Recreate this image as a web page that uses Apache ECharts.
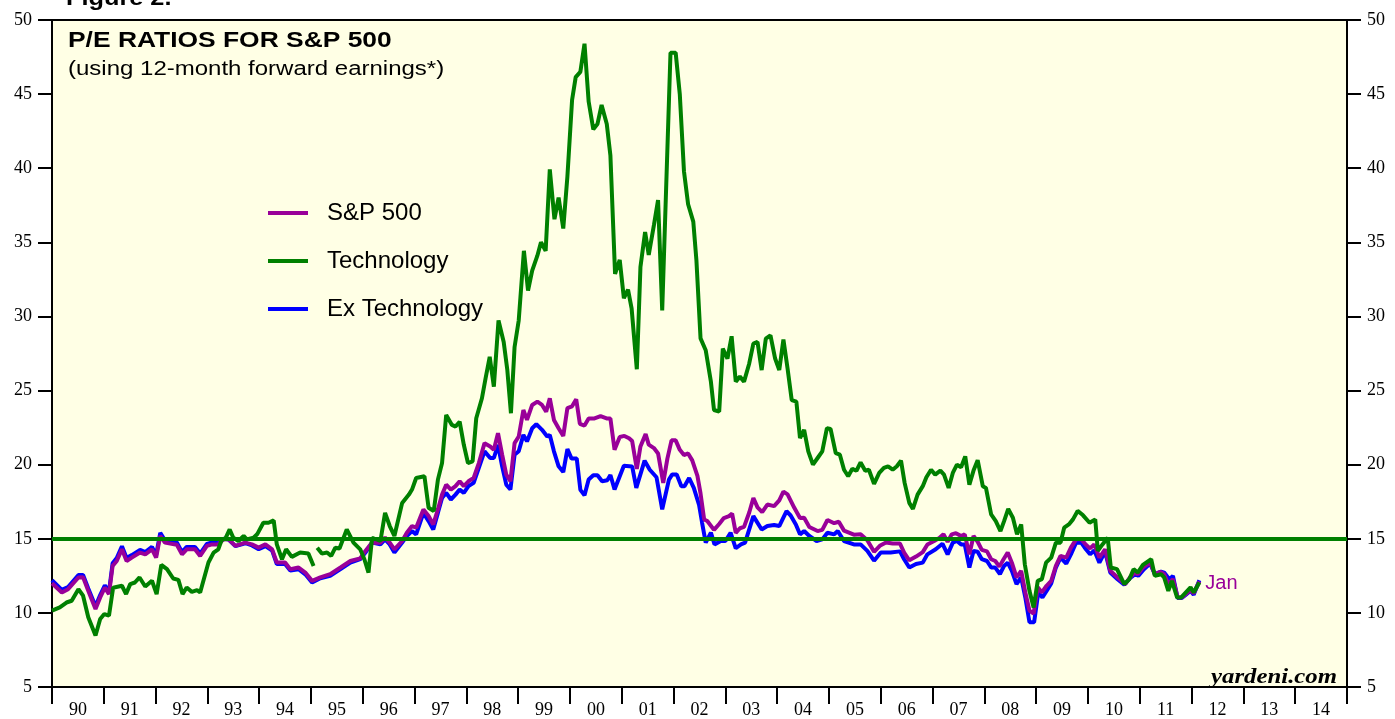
<!DOCTYPE html>
<html>
<head>
    <meta charset='utf-8' />
    <title>P/E Ratios for S&amp;P 500</title>
    <script src="https://cdn.jsdelivr.net/npm/echarts@6/dist/echarts.min.js"></script>
    <style>
        body {
            margin: 0;
            padding: 0;
            background: #fff;
        }

        #chart {
            width: 1395px;
            height: 719px;
        }
    </style>
</head>
<body>
    <div id='chart'></div>
    <script type="text/javascript">
        // year labels under the axis (one per year band)
        var yearLabels = ['90', '91', '92', '93', '94', '95', '96', '97', '98', '99', '00', '01', '02',
            '03', '04', '05', '06', '07', '08', '09', '10', '11', '12', '13', '14'];
        var yTicks = [5, 10, 15, 20, 25, 30, 35, 40, 45, 50];
        var benchmark = 15;

        // [decimal year, forward P/E]
        var spx = [[1990.00,12.0],[1990.19,11.38],[1990.31,11.6],[1990.51,12.39],[1990.60,12.4],[1990.70,11.5],[1990.84,10.26],[1990.93,11.04],[1991.02,11.7],[1991.10,11.27],[1991.17,13.17],[1991.25,13.5],[1991.35,14.29],[1991.44,13.5],[1991.54,13.73],[1991.70,14.07],[1991.80,13.95],[1991.93,14.29],[1992.01,13.73],[1992.09,15.19],[1992.18,14.74],[1992.41,14.6],[1992.51,13.95],[1992.60,14.29],[1992.76,14.29],[1992.86,13.84],[1992.99,14.52],[1993.09,14.62],[1993.21,14.62],[1993.31,14.96],[1993.41,14.96],[1993.54,14.52],[1993.73,14.74],[1993.86,14.62],[1993.99,14.4],[1994.12,14.62],[1994.25,14.29],[1994.34,13.4],[1994.50,13.4],[1994.60,12.95],[1994.76,13.06],[1994.89,12.72],[1995.02,12.16],[1995.18,12.39],[1995.37,12.61],[1995.57,13.06],[1995.76,13.5],[1995.95,13.68],[1996.05,14.18],[1996.18,14.74],[1996.34,14.74],[1996.43,15.07],[1996.52,14.74],[1996.61,14.29],[1996.76,14.85],[1996.85,15.41],[1996.95,15.86],[1997.03,15.75],[1997.17,16.98],[1997.27,16.53],[1997.36,15.97],[1997.45,16.98],[1997.53,17.98],[1997.61,18.65],[1997.70,18.32],[1997.79,18.55],[1997.87,18.88],[1997.95,18.55],[1998.04,18.88],[1998.14,19.1],[1998.24,20.11],[1998.35,21.45],[1998.46,21.23],[1998.53,21.0],[1998.61,22.12],[1998.69,20.67],[1998.77,19.33],[1998.85,18.88],[1998.93,21.45],[1999.01,21.9],[1999.10,23.69],[1999.17,23.02],[1999.27,24.03],[1999.37,24.25],[1999.46,24.03],[1999.54,23.58],[1999.61,24.48],[1999.69,23.02],[1999.78,22.46],[1999.87,21.94],[1999.95,23.82],[2000.04,23.94],[2000.12,24.41],[2000.19,22.76],[2000.28,22.64],[2000.36,23.11],[2000.46,23.11],[2000.59,23.28],[2000.72,23.11],[2000.78,23.11],[2000.86,21.0],[2000.96,21.87],[2001.05,21.94],[2001.14,21.78],[2001.20,21.59],[2001.29,19.71],[2001.36,21.23],[2001.46,22.06],[2001.52,21.35],[2001.62,21.12],[2001.70,20.76],[2001.80,18.77],[2001.88,20.41],[2001.96,21.64],[2002.04,21.64],[2002.12,21.0],[2002.20,20.65],[2002.28,20.76],[2002.36,20.29],[2002.46,19.24],[2002.52,18.06],[2002.59,16.3],[2002.65,16.2],[2002.78,15.6],[2002.88,16.0],[2002.97,16.4],[2003.07,16.53],[2003.13,16.7],[2003.20,15.4],[2003.28,15.71],[2003.36,15.8],[2003.46,16.77],[2003.54,17.75],[2003.62,17.12],[2003.71,16.8],[2003.81,17.31],[2003.94,17.2],[2004.04,17.59],[2004.12,18.18],[2004.20,18.0],[2004.33,17.09],[2004.44,16.4],[2004.52,16.42],[2004.62,15.8],[2004.78,15.52],[2004.87,15.6],[2004.97,16.27],[2005.10,16.05],[2005.19,16.15],[2005.29,15.55],[2005.48,15.28],[2005.61,15.3],[2005.74,14.9],[2005.87,14.12],[2005.99,14.55],[2006.10,14.75],[2006.23,14.68],[2006.37,14.68],[2006.45,14.07],[2006.55,13.55],[2006.68,13.8],[2006.81,14.1],[2006.90,14.62],[2007.03,14.85],[2007.13,15.05],[2007.21,15.3],[2007.29,14.8],[2007.37,15.3],[2007.45,15.38],[2007.55,15.19],[2007.62,15.3],[2007.71,13.95],[2007.79,15.19],[2007.87,14.8],[2007.95,14.25],[2008.05,14.15],[2008.13,13.62],[2008.21,13.5],[2008.29,13.12],[2008.37,13.62],[2008.45,14.07],[2008.53,13.39],[2008.62,12.39],[2008.71,12.84],[2008.79,11.38],[2008.87,10.15],[2008.95,9.95],[2009.03,11.72],[2009.11,11.38],[2009.20,11.83],[2009.29,12.16],[2009.38,13.17],[2009.47,13.84],[2009.58,13.73],[2009.67,14.4],[2009.77,14.96],[2009.87,14.96],[2009.96,14.6],[2010.04,14.35],[2010.12,14.62],[2010.22,13.73],[2010.33,14.29],[2010.43,12.84],[2010.57,12.39],[2010.72,11.94],[2010.81,12.39],[2010.90,12.72],[2010.96,12.61],[2011.06,13.06],[2011.20,13.39],[2011.29,12.61],[2011.40,12.77],[2011.47,12.61],[2011.55,11.94],[2011.64,12.28],[2011.73,11.04],[2011.81,11.04],[2011.89,11.27],[2011.98,11.53],[2012.04,11.31],[2012.15,12.12]];

        // '-' marks the missing month early in 1995
        var tech = [[1990.00,10.15],[1990.15,10.37],[1990.28,10.7],[1990.38,10.82],[1990.51,11.6],[1990.60,11.16],[1990.70,9.7],[1990.84,8.47],[1990.93,9.59],[1991.01,9.92],[1991.10,9.81],[1991.18,11.7],[1991.35,11.83],[1991.43,11.27],[1991.51,11.94],[1991.60,12.05],[1991.69,12.39],[1991.80,11.78],[1991.93,12.17],[1992.02,11.27],[1992.11,13.24],[1992.22,12.95],[1992.34,12.32],[1992.44,12.23],[1992.52,11.27],[1992.60,11.71],[1992.70,11.42],[1992.80,11.53],[1992.86,11.38],[1993.02,13.4],[1993.12,14.07],[1993.21,14.29],[1993.28,14.96],[1993.34,14.96],[1993.43,15.63],[1993.50,15.07],[1993.60,14.85],[1993.70,15.19],[1993.76,14.96],[1993.89,15.07],[1993.96,15.3],[1994.08,16.08],[1994.18,16.08],[1994.28,16.24],[1994.34,14.62],[1994.44,13.62],[1994.52,14.29],[1994.63,13.78],[1994.79,14.07],[1994.95,14.0],[1995.05,13.17],[1995.08,'-'],[1995.12,14.4],[1995.21,14.0],[1995.31,14.07],[1995.39,13.84],[1995.47,14.4],[1995.55,14.35],[1995.69,15.63],[1995.82,14.74],[1995.95,14.29],[1996.03,13.62],[1996.11,12.72],[1996.18,15.07],[1996.34,14.85],[1996.43,16.75],[1996.52,15.86],[1996.61,15.19],[1996.76,17.42],[1996.89,17.98],[1996.95,18.32],[1997.03,19.1],[1997.19,19.22],[1997.27,17.09],[1997.37,16.87],[1997.45,18.99],[1997.53,20.11],[1997.61,23.36],[1997.72,22.68],[1997.79,22.57],[1997.87,22.9],[1997.95,21.34],[1998.03,20.11],[1998.12,20.22],[1998.19,23.13],[1998.30,24.48],[1998.37,25.82],[1998.45,27.28],[1998.53,25.26],[1998.62,29.73],[1998.72,28.28],[1998.79,26.38],[1998.86,23.47],[1998.93,27.94],[1999.01,29.73],[1999.11,34.43],[1999.19,31.75],[1999.27,33.09],[1999.37,34.1],[1999.44,35.0],[1999.53,34.43],[1999.61,39.92],[1999.70,36.56],[1999.78,38.02],[1999.87,35.93],[1999.95,39.45],[2000.04,44.6],[2000.11,46.15],[2000.20,46.5],[2000.28,48.4],[2000.36,44.5],[2000.45,42.62],[2000.53,42.98],[2000.61,44.27],[2000.71,42.98],[2000.78,40.86],[2000.87,32.87],[2000.96,33.81],[2001.04,31.23],[2001.12,31.81],[2001.19,30.52],[2001.29,26.44],[2001.36,33.34],[2001.45,35.7],[2001.52,34.15],[2001.62,36.16],[2001.70,37.85],[2001.78,30.4],[2001.94,47.79],[2002.04,47.79],[2002.12,44.97],[2002.20,39.8],[2002.28,37.57],[2002.38,36.4],[2002.44,33.81],[2002.52,28.52],[2002.62,27.72],[2002.72,25.6],[2002.78,23.69],[2002.88,23.58],[2002.95,27.83],[2003.04,27.16],[2003.12,28.66],[2003.20,25.6],[2003.28,25.94],[2003.36,25.6],[2003.46,26.83],[2003.54,28.17],[2003.62,28.28],[2003.70,26.38],[2003.78,28.5],[2003.87,28.73],[2003.96,27.16],[2004.04,26.38],[2004.12,28.44],[2004.20,26.49],[2004.28,24.36],[2004.37,24.25],[2004.44,21.79],[2004.52,22.35],[2004.60,20.9],[2004.69,20.0],[2004.78,20.45],[2004.87,20.9],[2004.96,22.46],[2005.03,22.41],[2005.13,20.78],[2005.21,20.67],[2005.29,19.66],[2005.37,19.22],[2005.45,19.72],[2005.53,19.59],[2005.61,20.15],[2005.70,19.59],[2005.77,19.66],[2005.87,18.7],[2005.97,19.44],[2006.06,19.78],[2006.14,19.89],[2006.23,19.66],[2006.31,19.89],[2006.39,20.27],[2006.46,18.77],[2006.55,17.42],[2006.62,17.02],[2006.71,17.98],[2006.81,18.55],[2006.88,19.15],[2006.97,19.66],[2007.05,19.33],[2007.15,19.6],[2007.22,19.33],[2007.31,18.43],[2007.39,19.44],[2007.47,20.0],[2007.55,19.83],[2007.63,20.56],[2007.71,18.65],[2007.79,19.6],[2007.87,20.3],[2007.97,18.54],[2008.03,18.43],[2008.13,16.64],[2008.22,16.19],[2008.31,15.52],[2008.38,16.19],[2008.46,17.02],[2008.55,16.42],[2008.63,15.3],[2008.71,15.97],[2008.78,13.28],[2008.87,11.49],[2008.95,10.37],[2009.03,12.16],[2009.11,12.28],[2009.19,13.39],[2009.29,13.73],[2009.38,14.74],[2009.47,14.74],[2009.54,15.75],[2009.63,15.97],[2009.71,16.31],[2009.80,16.88],[2009.90,16.6],[2010.03,16.08],[2010.14,16.31],[2010.19,14.18],[2010.28,14.62],[2010.38,15.07],[2010.44,13.06],[2010.56,12.95],[2010.70,11.94],[2010.80,12.28],[2010.88,12.95],[2010.96,12.72],[2011.06,13.24],[2011.22,13.62],[2011.29,12.5],[2011.41,12.61],[2011.47,12.39],[2011.55,11.49],[2011.62,12.16],[2011.72,11.04],[2011.80,11.04],[2011.89,11.38],[2011.98,11.72],[2012.04,11.38],[2012.15,12.05]];

        var exTech = [[1990.00,12.2],[1990.19,11.55],[1990.31,11.75],[1990.51,12.55],[1990.60,12.55],[1990.70,11.65],[1990.84,10.45],[1990.93,11.2],[1991.02,11.85],[1991.10,11.45],[1991.17,13.35],[1991.25,13.7],[1991.35,14.5],[1991.44,13.7],[1991.54,13.9],[1991.70,14.25],[1991.80,14.1],[1991.93,14.45],[1992.01,13.9],[1992.09,15.4],[1992.18,14.9],[1992.41,14.75],[1992.51,14.1],[1992.60,14.45],[1992.76,14.45],[1992.86,14.0],[1992.99,14.65],[1993.09,14.75],[1993.21,14.7],[1993.31,15.0],[1993.41,14.95],[1993.54,14.5],[1993.73,14.7],[1993.86,14.55],[1993.99,14.3],[1994.12,14.5],[1994.25,14.2],[1994.34,13.3],[1994.50,13.3],[1994.60,12.85],[1994.76,12.95],[1994.89,12.6],[1995.02,12.05],[1995.18,12.34],[1995.37,12.5],[1995.57,12.95],[1995.76,13.39],[1995.95,13.62],[1996.05,14.07],[1996.18,14.74],[1996.34,14.62],[1996.43,14.96],[1996.52,14.62],[1996.61,14.07],[1996.76,14.74],[1996.85,15.19],[1996.95,15.52],[1997.03,15.3],[1997.17,16.75],[1997.27,16.19],[1997.36,15.63],[1997.45,16.75],[1997.53,17.76],[1997.61,18.1],[1997.70,17.65],[1997.79,17.98],[1997.87,18.32],[1997.95,18.1],[1998.04,18.55],[1998.14,18.77],[1998.24,19.78],[1998.35,20.9],[1998.46,20.45],[1998.53,20.45],[1998.61,21.34],[1998.69,19.89],[1998.77,18.65],[1998.85,18.32],[1998.93,20.67],[1999.01,20.9],[1999.10,22.01],[1999.17,21.57],[1999.27,22.46],[1999.35,22.73],[1999.46,22.35],[1999.56,21.9],[1999.61,22.01],[1999.69,20.9],[1999.78,19.89],[1999.87,19.5],[1999.95,21.05],[2000.03,20.41],[2000.13,20.41],[2000.20,18.3],[2000.28,17.94],[2000.36,19.0],[2000.45,19.29],[2000.53,19.29],[2000.62,18.88],[2000.72,18.95],[2000.78,19.3],[2000.86,18.33],[2001.04,19.93],[2001.20,19.88],[2001.28,18.43],[2001.44,20.27],[2001.54,19.66],[2001.67,19.15],[2001.78,16.98],[2001.91,18.99],[2001.97,19.33],[2002.06,19.33],[2002.15,18.54],[2002.21,18.54],[2002.30,19.1],[2002.39,18.43],[2002.49,17.31],[2002.55,16.08],[2002.62,14.74],[2002.72,15.41],[2002.79,14.62],[2002.91,14.85],[2003.00,14.85],[2003.10,15.41],[2003.20,14.36],[2003.30,14.62],[2003.38,14.74],[2003.54,16.53],[2003.70,15.63],[2003.81,15.86],[2003.94,15.93],[2004.04,15.86],[2004.18,16.86],[2004.26,16.57],[2004.36,15.97],[2004.44,15.3],[2004.52,15.52],[2004.62,15.19],[2004.76,14.85],[2004.87,14.96],[2004.97,15.41],[2005.10,15.3],[2005.17,15.52],[2005.29,14.85],[2005.48,14.62],[2005.61,14.62],[2005.74,14.18],[2005.87,13.52],[2006.00,14.07],[2006.19,14.07],[2006.37,14.15],[2006.45,13.62],[2006.55,13.06],[2006.68,13.3],[2006.81,13.39],[2006.90,13.95],[2007.06,14.29],[2007.19,14.67],[2007.29,13.95],[2007.39,14.74],[2007.47,14.85],[2007.55,14.62],[2007.62,14.62],[2007.71,13.06],[2007.79,14.18],[2007.87,14.13],[2007.95,13.62],[2008.05,13.5],[2008.13,13.06],[2008.21,13.06],[2008.30,12.61],[2008.38,13.17],[2008.45,13.39],[2008.53,12.84],[2008.62,11.94],[2008.71,12.39],[2008.79,11.04],[2008.87,9.37],[2008.96,9.37],[2009.04,11.38],[2009.12,11.04],[2009.21,11.53],[2009.29,11.98],[2009.38,13.06],[2009.47,13.73],[2009.58,13.33],[2009.67,13.95],[2009.77,14.74],[2009.87,14.74],[2009.96,14.29],[2010.04,13.95],[2010.12,14.22],[2010.22,13.39],[2010.33,14.13],[2010.43,12.72],[2010.57,12.27],[2010.70,11.9],[2010.81,12.34],[2010.91,12.61],[2010.97,12.5],[2011.08,12.95],[2011.20,13.33],[2011.29,12.61],[2011.41,12.79],[2011.47,12.72],[2011.57,12.27],[2011.64,12.5],[2011.73,11.0],[2011.81,11.0],[2011.89,11.23],[2011.98,11.49],[2012.04,11.23],[2012.15,12.2]];

        var serif = "'Liberation Serif', 'DejaVu Serif', serif";
        var sans = "'Liberation Sans', Arial, sans-serif";

        var myChart = echarts.init(document.getElementById('chart'));

        var valueAxisCommon = {
            type: 'value',
            min: yTicks[0],
            max: yTicks[yTicks.length - 1],
            interval: 5,
            splitLine: { show: false },
            axisLine: { show: true, lineStyle: { color: '#000', width: 2 } },
            axisTick: { show: true, inside: false, length: 14, lineStyle: { color: '#000', width: 2 } },
            axisLabel: { color: '#000', fontFamily: serif, fontSize: 18, margin: 20 }
        };

        myChart.setOption({
            animation: false,
            backgroundColor: '#fff',
            grid: {
                left: 52,
                right: 48,
                top: 20,
                bottom: 29,
                show: true,
                backgroundColor: '#ffffe5',
                borderColor: '#000',
                borderWidth: 2
            },
            legend: {
                orient: 'vertical',
                left: 268,
                top: 201,
                padding: 0,
                itemWidth: 40,
                itemHeight: 4,
                itemGap: 24,
                icon: 'rect',
                data: ['S&P 500', 'Technology', 'Ex Technology'],
                textStyle: {
                    fontFamily: sans,
                    fontSize: 24,
                    color: '#000',
                    lineHeight: 24,
                    padding: [0, 0, 0, 14]
                }
            },
            xAxis: [{
                type: 'value',
                min: 1990,
                max: 2015,
                interval: 1,
                splitLine: { show: false },
                axisLine: { show: true, lineStyle: { color: '#000', width: 2 } },
                axisTick: { show: true, length: 17, lineStyle: { color: '#000', width: 2 } },
                axisLabel: { show: false }
            }, {
                type: 'category',
                position: 'bottom',
                data: yearLabels,
                axisLine: { show: false },
                axisTick: { show: false },
                axisLabel: { color: '#000', fontFamily: serif, fontSize: 18, margin: 14, interval: 0 }
            }],
            yAxis: [
                Object.assign({ position: 'left' }, valueAxisCommon),
                Object.assign({ position: 'right' }, valueAxisCommon)
            ],
            series: [{
                name: 'Ex Technology',
                type: 'line',
                data: exTech,
                showSymbol: false,
                color: '#0000ff',
                lineStyle: { width: 4, color: '#0000ff' }
            }, {
                name: 'S&P 500',
                type: 'line',
                data: spx,
                showSymbol: false,
                color: '#990099',
                lineStyle: { width: 4, color: '#990099' },
                endLabel: {
                    show: true,
                    formatter: 'Jan',
                    color: '#990099',
                    fontFamily: sans,
                    fontSize: 20,
                    distance: 6,
                    offset: [0, 2]
                }
            }, {
                name: 'Technology',
                type: 'line',
                data: tech,
                showSymbol: false,
                connectNulls: false,
                color: '#008000',
                lineStyle: { width: 4, color: '#008000' },
                markLine: {
                    silent: true,
                    symbol: 'none',
                    label: { show: false },
                    lineStyle: { color: '#008000', width: 4, type: 'solid' },
                    data: [{ yAxis: benchmark }]
                }
            }],
            // heading texts are a bit wider than the installed fonts, hence scaleX
            graphic: [{
                type: 'text',
                x: 66,
                y: -12,
                scaleX: 1.15,
                style: { text: 'Figure 2.', font: 'bold 22px ' + sans, fill: '#000', verticalAlign: 'top' }
            }, {
                type: 'text',
                x: 68,
                y: 30,
                scaleX: 1.2,
                style: { text: 'P/E RATIOS FOR S&P 500', font: 'bold 22px ' + sans, fill: '#000', verticalAlign: 'top' }
            }, {
                type: 'text',
                x: 68,
                y: 59,
                scaleX: 1.2,
                style: { text: '(using 12-month forward earnings*)', font: '20px ' + sans, fill: '#000', verticalAlign: 'top' }
            }, {
                type: 'text',
                x: 1337,
                y: 667,
                scaleX: 1.18,
                style: { text: 'yardeni.com', font: 'italic bold 21px ' + serif, fill: '#000', align: 'right', verticalAlign: 'top' }
            }]
        });
    </script>
</body>
</html>
